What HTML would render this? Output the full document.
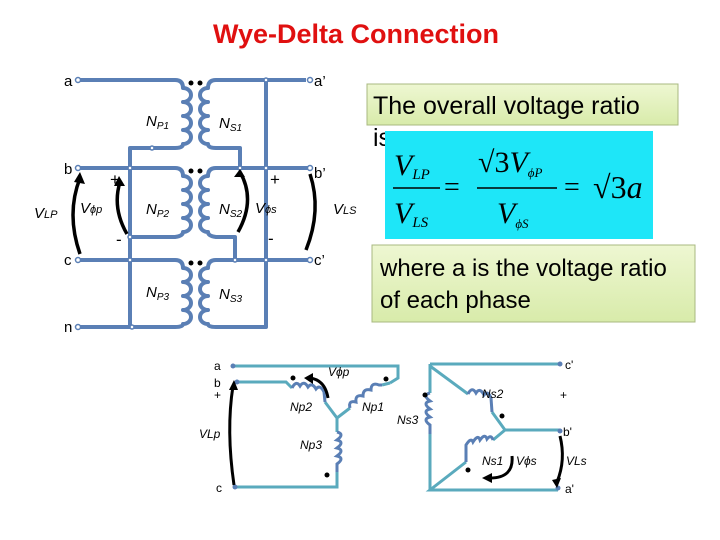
<!DOCTYPE html>
<html><head><meta charset="utf-8"><style>
html,body{margin:0;padding:0;background:#fff;}
svg{display:block;}
text{font-family:"Liberation Sans",Arial,sans-serif;}
</style></head><body>
<svg width="720" height="540" viewBox="0 0 720 540" xmlns="http://www.w3.org/2000/svg">
<defs>
<linearGradient id="g" x1="0" y1="0" x2="0" y2="1"><stop offset="0" stop-color="#eef7d2"/><stop offset="1" stop-color="#d8ebaa"/></linearGradient>
</defs>
<text x="356" y="43" font-size="27" font-weight="bold" fill="#e01010" text-anchor="middle">Wye-Delta Connection</text>

<g fill="none" stroke="#5a7fb5" stroke-width="4" stroke-linejoin="round">
<path d="M78,80 H175 Q183,80 183,88 a8,7 0 0,1 0,14 a8,7 0 0,1 0,14 a8,7 0 0,1 0,14 a8,7 0 0,1 0,14 Q183,148 175,148 H130 V327"/>
<path d="M78,168 H175 Q183,168 183,176 a8,7 0 0,1 0,14 a8,7 0 0,1 0,14 a8,7 0 0,1 0,14 a8,7 0 0,1 0,14 Q183,236 175,237 H130"/>
<path d="M78,260 H175 Q183,260 183,268 a8,7 0 0,1 0,14 a8,7 0 0,1 0,14 a8,7 0 0,1 0,14 a8,7 0 0,1 0,14 Q183,327 175,327 H78"/>
<path d="M306,80 H216 Q208,80 208,88 a8,7 0 0,0 0,14 a8,7 0 0,0 0,14 a8,7 0 0,0 0,14 a8,7 0 0,0 0,14 Q208,148 216,148 H240 V168"/>
<path d="M310,168 H216 Q208,168 208,176 a8,7 0 0,0 0,14 a8,7 0 0,0 0,14 a8,7 0 0,0 0,14 a8,7 0 0,0 0,14 Q208,236 216,237 H235 V260"/>
<path d="M310,260 H216 Q208,260 208,268 a8,7 0 0,0 0,14 a8,7 0 0,0 0,14 a8,7 0 0,0 0,14 a8,7 0 0,0 0,14 Q208,327 216,327 H266 V80"/>
</g>
<g fill="#fff" stroke="#5a7fb5" stroke-width="1.5">
<circle cx="78" cy="80" r="2.5"/><circle cx="78" cy="168" r="2.5"/><circle cx="78" cy="260" r="2.5"/><circle cx="78" cy="327" r="2.5"/>
<circle cx="310" cy="80" r="2.5"/><circle cx="310" cy="168" r="2.5"/><circle cx="310" cy="260" r="2.5"/>
<circle cx="152" cy="148" r="2"/><circle cx="130" cy="168" r="2"/><circle cx="130" cy="237" r="2"/><circle cx="130" cy="260" r="2"/><circle cx="132" cy="327" r="2"/>
<circle cx="266" cy="80" r="2"/><circle cx="240" cy="168" r="2"/><circle cx="266" cy="168" r="2"/><circle cx="235" cy="260" r="2"/><circle cx="266" cy="260" r="2"/>
</g>
<g fill="#000">
<circle cx="191" cy="83" r="2.5"/><circle cx="200" cy="83" r="2.5"/>
<circle cx="191" cy="171" r="2.5"/><circle cx="200" cy="171" r="2.5"/>
<circle cx="191" cy="263" r="2.5"/><circle cx="200" cy="263" r="2.5"/>
</g>
<g fill="none" stroke="#000" stroke-width="3.5">
<path d="M80,254 Q66,214 80,178"/><path d="M127,234 Q112,208 120,182"/>
<path d="M240,172 Q256,200 238,232"/><path d="M310,174 Q322,210 306,250"/>
</g>
<g fill="#000"><path d="M74,182 L80,172 L85,184 z"/><path d="M114,186 L119,176 L125,186 z"/><path d="M234,177 L240,169 L245,177 z"/></g>
<g font-size="15" fill="#000">
<text x="64" y="86">a</text><text x="64" y="174">b</text><text x="64" y="265">c</text><text x="64" y="332">n</text>
<text x="314" y="86">a’</text><text x="314" y="178">b’</text><text x="314" y="265">c’</text>
<text x="110" y="185" font-size="17">+</text><text x="116" y="245" font-size="17">-</text>
<text x="270" y="185" font-size="17">+</text><text x="268" y="244" font-size="17">-</text>
<g font-style="italic">
<text x="146" y="126">N<tspan font-size="10" dy="3">P1</tspan></text>
<text x="219" y="128">N<tspan font-size="10" dy="3">S1</tspan></text>
<text x="146" y="214">N<tspan font-size="10" dy="3">P2</tspan></text>
<text x="219" y="214">N<tspan font-size="10" dy="3">S2</tspan></text>
<text x="146" y="297">N<tspan font-size="10" dy="3">P3</tspan></text>
<text x="219" y="299">N<tspan font-size="10" dy="3">S3</tspan></text>
<text x="255" y="213">V<tspan font-size="11">ϕs</tspan></text>
<text x="80" y="213">V<tspan font-size="11">ϕp</tspan></text>
<text x="333" y="214">V<tspan font-size="11">LS</tspan></text>
<text x="34" y="218">V<tspan font-size="11">LP</tspan></text>
</g></g>

<rect x="367" y="84" width="311" height="41" fill="url(#g)" stroke="#a8b880"/>
<text x="373" y="114" font-size="25" fill="#000">The overall voltage ratio</text>
<text x="373" y="146" font-size="25" fill="#000">is</text>
<rect x="385" y="131" width="268" height="108" fill="#1ee6f8"/>
<g style="font-family:'Liberation Serif',serif;font-style:italic" fill="#000">
<text x="394" y="175" font-size="30" style="font-family:'Liberation Serif',serif">V<tspan font-size="15" dy="4">LP</tspan></text>
<line x1="393" y1="188" x2="440" y2="188" stroke="#000" stroke-width="1.5"/>
<text x="394" y="223" font-size="30" style="font-family:'Liberation Serif',serif">V<tspan font-size="15" dy="4">LS</tspan></text>
<text x="444" y="196" font-size="28" style="font-family:'Liberation Serif',serif;font-style:normal">=</text>
<text x="478" y="172" font-size="30" style="font-family:'Liberation Serif',serif;font-style:normal">√3<tspan style="font-style:italic">V</tspan><tspan font-size="13" dy="5" style="font-style:italic">ϕP</tspan></text>
<line x1="477" y1="188" x2="557" y2="188" stroke="#000" stroke-width="1.5"/>
<text x="497" y="223" font-size="30" style="font-family:'Liberation Serif',serif">V<tspan font-size="13" dy="5">ϕS</tspan></text>
<text x="564" y="196" font-size="28" style="font-family:'Liberation Serif',serif;font-style:normal">=</text>
<text x="593" y="198" font-size="32" style="font-family:'Liberation Serif',serif;font-style:normal">√3<tspan style="font-style:italic">a</tspan></text>
</g>
<rect x="372" y="245" width="323" height="77" fill="url(#g)" stroke="#a8b880"/>
<text x="380" y="276" font-size="24" fill="#000">where a is the voltage ratio</text>
<text x="380" y="308" font-size="24" fill="#000">of each phase</text>

<g fill="none" stroke="#5aaabd" stroke-width="3">
<path d="M233,366 H398 V378 L390,383"/>
<path d="M237,382 H286 L292,388"/><path d="M325,402 L337,418 L350,408"/><path d="M382,385 L390,383"/>
<path d="M337,418 V432"/><path d="M337,472 V487 H235"/>
<path d="M430,364 H560"/><path d="M430,364 V393"/><path d="M430,434 V490"/>
<path d="M430,366 L468,394"/><path d="M492,412 L505,430 H560"/>
<path d="M505,430 L493,440"/><path d="M466,462 L430,490 H558"/>
</g>
<g fill="none" stroke="#5a7fb5" stroke-width="3">
<path d="M292,388 q4,-8 8,-2 q4,-6 8,1 q4,-5 8,2 q4,-5 8,3 L325,402"/>
<path d="M350,408 q-2,-8 6,-6 q-1,-8 7,-6 q0,-8 8,-6 q0,-8 8,-5 L382,385"/>
<path d="M337,432 q8,2 0,8 q8,2 0,8 q8,2 0,8 q8,2 0,8 L337,472"/>
<path d="M430,393 q-8,2 0,8 q-8,2 0,8 q-8,2 0,8 q-8,2 0,8 L430,434"/>
<path d="M468,394 q4,-8 8,-1 q4,-6 8,2 q4,-5 7,3 L492,412"/>
<path d="M493,440 q-2,-6 -6,-1 q-2,-6 -7,1 q-2,-6 -7,2 q-2,-5 -7,3 L466,462"/>
</g>
<g fill="#5a7fb5"><circle cx="233" cy="366" r="2.5"/><circle cx="237" cy="382" r="2.5"/><circle cx="235" cy="487" r="2.5"/><circle cx="560" cy="364" r="2.5"/><circle cx="560" cy="431" r="2.5"/><circle cx="558" cy="488" r="2.5"/></g>
<g fill="#000"><circle cx="293" cy="378" r="2.5"/><circle cx="386" cy="379" r="2.5"/><circle cx="327" cy="475" r="2.5"/><circle cx="425" cy="395" r="2.5"/><circle cx="502" cy="416" r="2.5"/><circle cx="468" cy="470" r="2.5"/></g>
<g fill="none" stroke="#000" stroke-width="3">
<path d="M234,485 Q226,430 233,386"/><path d="M328,398 Q325,380 310,378"/>
<path d="M512,456 Q514,478 490,478"/><path d="M560,436 Q566,460 557,482"/>
</g>
<g fill="#000"><path d="M229,390 L234,380 L238,390 z"/><path d="M313,373 L304,378 L313,384 z"/><path d="M492,473 L482,478 L492,483 z"/><path d="M552,480 L557,488 L561,478 z"/></g>
<g font-size="12" fill="#000">
<text x="214" y="370">a</text><text x="214" y="387">b</text><text x="214" y="399">+</text><text x="216" y="492">c</text>
<text x="565" y="369">c'</text><text x="560" y="399">+</text><text x="563" y="436">b'</text><text x="565" y="493">a'</text>
<g font-style="italic">
<text x="328" y="376">Vϕp</text><text x="290" y="411">Np2</text><text x="362" y="411">Np1</text><text x="300" y="449">Np3</text>
<text x="199" y="438">VLp</text>
<text x="482" y="398">Ns2</text><text x="397" y="424">Ns3</text><text x="482" y="465">Ns1</text><text x="516" y="465">Vϕs</text><text x="566" y="465">VLs</text>
</g></g>
</svg>
</body></html>
